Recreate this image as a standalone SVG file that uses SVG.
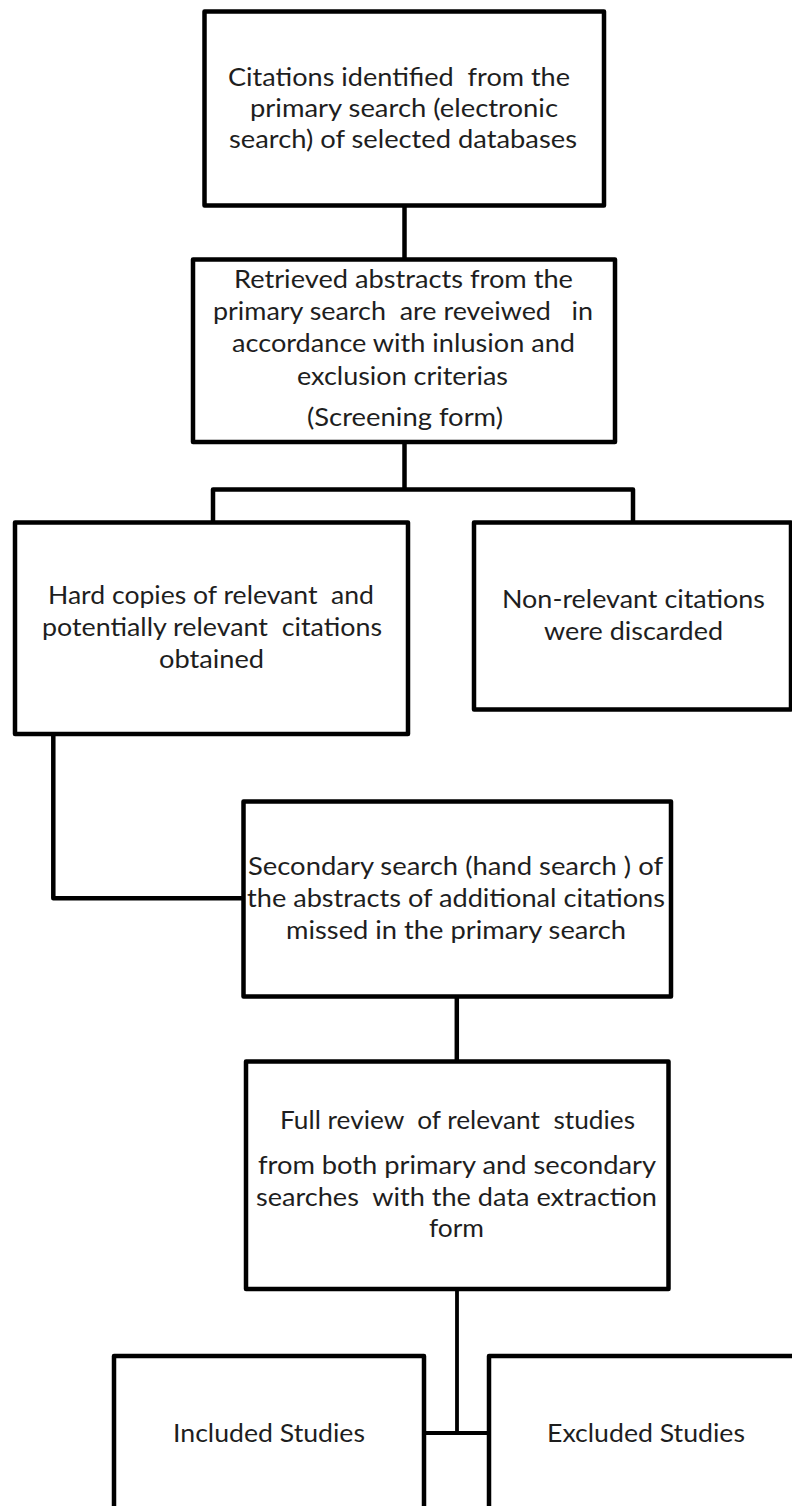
<svg xmlns="http://www.w3.org/2000/svg" width="792" height="1506" viewBox="0 0 792 1506">
<style>
.box{fill:#fff;stroke:#000;stroke-width:4.5;stroke-linejoin:round}
.con{fill:none;stroke:#000;stroke-width:4.5;stroke-linejoin:round}
.con2{fill:none;stroke:#000;stroke-width:3.8}
text{font-family:Lato,"Open Sans","Liberation Sans",sans-serif;font-size:25.5px;fill:#1e1e1e;text-anchor:middle;white-space:pre}
</style>
<rect x="0" y="0" width="792" height="1506" fill="#fff"/>
<g id="connectors">
<path class="con" d="M404.5 206 V259.5"/>
<path class="con" d="M404.5 442 V489.5 M213 522.5 V489.5 H633 V522.5"/>
<path class="con" d="M53.3 734 V898.3 H243.5"/>
<path class="con" d="M456.8 996.5 V1061.5"/>
<path class="con2" d="M457 1289 V1433 M424 1433 H489"/>
</g>
<g id="n1">
<rect class="box" x="204.5" y="11.5" width="399.5" height="194"/>
<text x="399" y="86" textLength="342" lengthAdjust="spacingAndGlyphs">Citations identified  from the</text>
<text x="404" y="117" textLength="308" lengthAdjust="spacingAndGlyphs">primary search (electronic</text>
<text x="403" y="148" textLength="348" lengthAdjust="spacingAndGlyphs">search) of selected databases</text>
</g>
<g id="n2">
<rect class="box" x="193" y="259.5" width="422" height="182.5"/>
<text x="403.5" y="288" textLength="339" lengthAdjust="spacingAndGlyphs">Retrieved abstracts from the</text>
<text x="403" y="320" textLength="380" lengthAdjust="spacingAndGlyphs">primary search  are reveiwed   in</text>
<text x="403.5" y="352" textLength="343" lengthAdjust="spacingAndGlyphs">accordance with inlusion and</text>
<text x="402.5" y="385" textLength="211" lengthAdjust="spacingAndGlyphs">exclusion criterias</text>
<text x="405" y="426" textLength="196" lengthAdjust="spacingAndGlyphs">(Screening form)</text>
</g>
<g id="n3">
<rect class="box" x="15" y="522.5" width="393" height="211.5"/>
<text x="211" y="604" textLength="326" lengthAdjust="spacingAndGlyphs">Hard copies of relevant  and</text>
<text x="212" y="636" textLength="340" lengthAdjust="spacingAndGlyphs">potentially relevant  citations</text>
<text x="211.5" y="668" textLength="105" lengthAdjust="spacingAndGlyphs">obtained</text>
</g>
<g id="n4">
<rect class="box" x="474" y="522.5" width="317" height="187"/>
<text x="633.5" y="608" textLength="263" lengthAdjust="spacingAndGlyphs">Non-relevant citations</text>
<text x="633.5" y="640" textLength="179" lengthAdjust="spacingAndGlyphs">were discarded</text>
</g>
<g id="n5">
<rect class="box" x="243.5" y="801.5" width="427.5" height="195"/>
<text x="455.5" y="875" textLength="415" lengthAdjust="spacingAndGlyphs">Secondary search (hand search ) of</text>
<text x="456" y="907" textLength="418" lengthAdjust="spacingAndGlyphs">the abstracts of additional citations</text>
<text x="456" y="939" textLength="340" lengthAdjust="spacingAndGlyphs">missed in the primary search</text>
</g>
<g id="n6">
<rect class="box" x="246" y="1061.5" width="422.5" height="227.5"/>
<text x="457.5" y="1129" textLength="355" lengthAdjust="spacingAndGlyphs">Full review  of relevant  studies</text>
<text x="457" y="1174" textLength="398" lengthAdjust="spacingAndGlyphs">from both primary and secondary</text>
<text x="456.5" y="1206" textLength="401" lengthAdjust="spacingAndGlyphs">searches  with the data extraction</text>
<text x="456.5" y="1237" textLength="55" lengthAdjust="spacingAndGlyphs">form</text>
</g>
<g id="n7">
<rect class="box" x="114" y="1356" width="310" height="170"/>
<text x="269" y="1442" textLength="192" lengthAdjust="spacingAndGlyphs">Included Studies</text>
</g>
<g id="n8">
<rect class="box" x="489" y="1356" width="330" height="170"/>
<text x="646" y="1442" textLength="198" lengthAdjust="spacingAndGlyphs">Excluded Studies</text>
</g>
</svg>
